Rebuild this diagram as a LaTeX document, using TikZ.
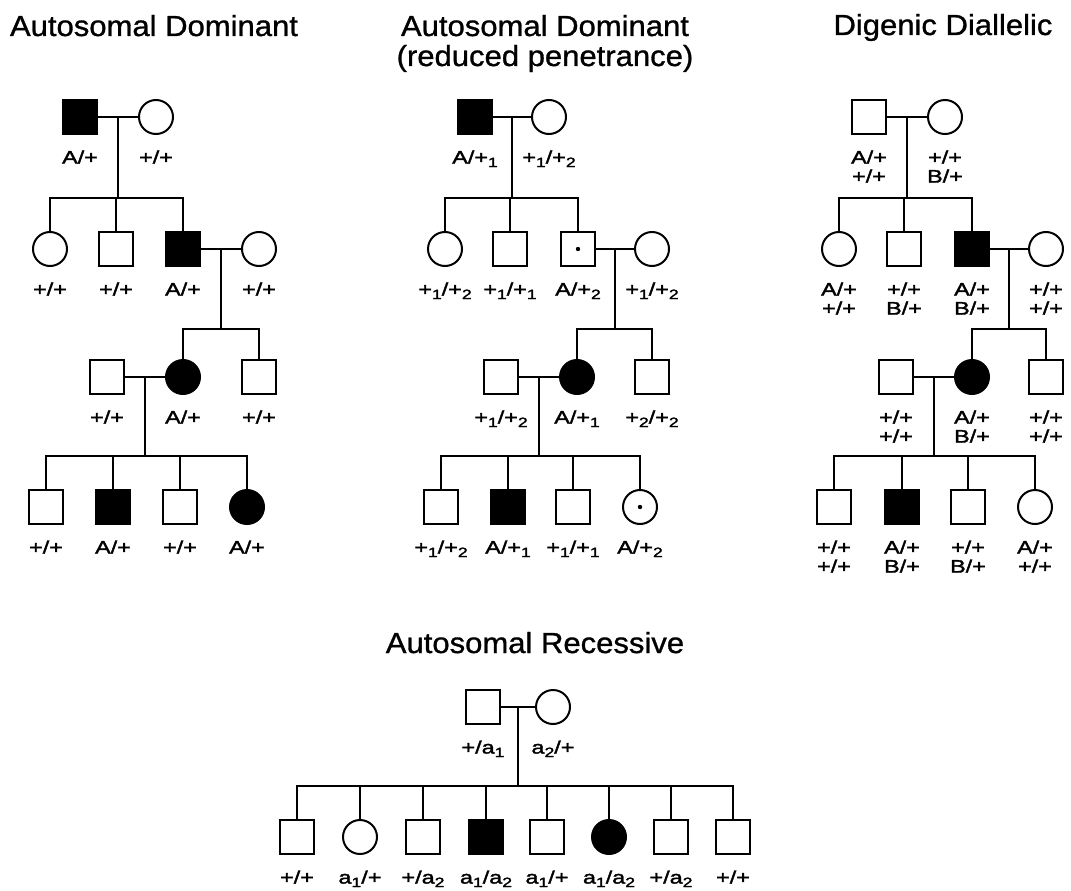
\documentclass[tikz,border=0pt]{standalone}
\usepackage{fontspec}
\setmainfont{Liberation Sans}
\newfontfamily\titlefont[FakeStretch=1.07, FakeBold=1]{Liberation Sans}
\newfontfamily\gtfont[FakeStretch=1.3, FakeBold=2]{Liberation Sans}
\usetikzlibrary{calc}
\newcommand{\sbs}[1]{\raisebox{-3.5pt}{\fontsize{13.5}{13.5}\selectfont #1}}
\tikzset{
  male/.style={draw, rectangle, minimum size=34pt, inner sep=0pt},
  female/.style={draw, circle, minimum size=34pt, inner sep=0pt},
  aff/.style={fill=black},
  carrier/.style={path picture={\fill (path picture bounding box.center) circle (2.2pt);}},
  title/.style={font=\titlefont\fontsize{29}{30}\selectfont, align=center},
  every label/.style={font=\gtfont\fontsize{18}{19}\selectfont, align=center, inner sep=0pt},
}
\begin{document}
\begin{tikzpicture}[x=1pt, y=-1pt, line width=2pt, label distance=14.5pt]
\useasboundingbox (0,0) rectangle (1071,891);
% titles
\node[title, anchor=base] (t1) at (154,36) {Autosomal Dominant};
\node[title] (t2) at (545,43.5) {Autosomal Dominant\\(reduced penetrance)};
\node[title, anchor=base] (t3) at (943,35) {Digenic Diallelic};
\node[title, anchor=base] (t4) at (535,653) {Autosomal Recessive};

% autosomal dominant
\node[male,aff,label=below:A/+] (a1f) at (80,117) {};
\node[female,label=below:+/+] (a1m) at (156,117) {};
\node[female,label=below:+/+] (a2a) at (50,249) {};
\node[male,label=below:+/+] (a2b) at (116,249) {};
\node[male,aff,label=below:A/+] (a2c) at (183,249) {};
\node[female,label=below:+/+] (a2s) at (259,249) {};
\node[male,label=below:+/+] (a3s) at (107,377) {};
\node[female,aff,label=below:A/+] (a3a) at (183,377) {};
\node[male,label=below:+/+] (a3b) at (259,377) {};
\node[male,label=below:+/+] (a4a) at (46,507) {};
\node[male,aff,label=below:A/+] (a4b) at (113,507) {};
\node[male,label=below:+/+] (a4c) at (180,507) {};
\node[female,aff,label=below:A/+] (a4d) at (247,507) {};
\draw (a1f) -- (a1m);
\coordinate (a1x) at ($(a1f)!.5!(a1m)$);
\coordinate (a2bar) at (a1x |- 0,198);
\draw (a1x) -- (a2bar);
\draw (a2a) |- (a2bar) -| (a2c);
\draw (a2b) -- (a2b |- a2bar);
\draw (a2c) -- (a2s);
\coordinate (a2x) at ($(a2c)!.5!(a2s)$);
\coordinate (a3bar) at (a2x |- 0,329);
\draw (a2x) -- (a3bar);
\draw (a3a) |- (a3bar) -| (a3b);
\draw (a3s) -- (a3a);
\coordinate (a3x) at ($(a3s)!.5!(a3a)$);
\coordinate (a4bar) at (a3x |- 0,456);
\draw (a3x) -- (a4bar);
\draw (a4a) |- (a4bar) -| (a4d);
\foreach \k in {a4b,a4c} \draw (\k) -- (\k |- a4bar);

% autosomal dominant, reduced penetrance
\node[male,aff,label=below:A/+\sbs1] (b1f) at (475,117) {};
\node[female,label=below:+\sbs1/+\sbs2] (b1m) at (549,117) {};
\node[female,label=below:+\sbs1/+\sbs2] (b2a) at (445,249) {};
\node[male,label=below:+\sbs1/+\sbs1] (b2b) at (510,249) {};
\node[male,carrier,label=below:A/+\sbs2] (b2c) at (578,249) {};
\node[female,label=below:+\sbs1/+\sbs2] (b2s) at (652,249) {};
\node[male,label=below:+\sbs1/+\sbs2] (b3s) at (501,377) {};
\node[female,aff,label=below:A/+\sbs1] (b3a) at (577,377) {};
\node[male,label=below:+\sbs2/+\sbs2] (b3b) at (652,377) {};
\node[male,label=below:+\sbs1/+\sbs2] (b4a) at (441,507) {};
\node[male,aff,label=below:A/+\sbs1] (b4b) at (508,507) {};
\node[male,label=below:+\sbs1/+\sbs1] (b4c) at (573,507) {};
\node[female,carrier,label=below:A/+\sbs2] (b4d) at (640,507) {};
\draw (b1f) -- (b1m);
\coordinate (b1x) at ($(b1f)!.5!(b1m)$);
\coordinate (b2bar) at (b1x |- 0,198);
\draw (b1x) -- (b2bar);
\draw (b2a) |- (b2bar) -| (b2c);
\draw (b2b) -- (b2b |- b2bar);
\draw (b2c) -- (b2s);
\coordinate (b2x) at ($(b2c)!.5!(b2s)$);
\coordinate (b3bar) at (b2x |- 0,329);
\draw (b2x) -- (b3bar);
\draw (b3a) |- (b3bar) -| (b3b);
\draw (b3s) -- (b3a);
\coordinate (b3x) at ($(b3s)!.5!(b3a)$);
\coordinate (b4bar) at (b3x |- 0,456);
\draw (b3x) -- (b4bar);
\draw (b4a) |- (b4bar) -| (b4d);
\foreach \k in {b4b,b4c} \draw (\k) -- (\k |- b4bar);

% digenic diallelic
\node[male,label=below:A/+\\+/+] (c1f) at (869,117) {};
\node[female,label=below:+/+\\B/+] (c1m) at (945,117) {};
\node[female,label=below:A/+\\+/+] (c2a) at (839,249) {};
\node[male,label=below:+/+\\B/+] (c2b) at (904,249) {};
\node[male,aff,label=below:A/+\\B/+] (c2c) at (972,249) {};
\node[female,label=below:+/+\\+/+] (c2s) at (1046,249) {};
\node[male,label=below:+/+\\+/+] (c3s) at (896,377) {};
\node[female,aff,label=below:A/+\\B/+] (c3a) at (972,377) {};
\node[male,label=below:+/+\\+/+] (c3b) at (1046,377) {};
\node[male,label=below:+/+\\+/+] (c4a) at (834,507) {};
\node[male,aff,label=below:A/+\\B/+] (c4b) at (902,507) {};
\node[male,label=below:+/+\\B/+] (c4c) at (968,507) {};
\node[female,label=below:A/+\\+/+] (c4d) at (1035,507) {};
\draw (c1f) -- (c1m);
\coordinate (c1x) at ($(c1f)!.5!(c1m)$);
\coordinate (c2bar) at (c1x |- 0,198);
\draw (c1x) -- (c2bar);
\draw (c2a) |- (c2bar) -| (c2c);
\draw (c2b) -- (c2b |- c2bar);
\draw (c2c) -- (c2s);
\coordinate (c2x) at ($(c2c)!.5!(c2s)$);
\coordinate (c3bar) at (c2x |- 0,329);
\draw (c2x) -- (c3bar);
\draw (c3a) |- (c3bar) -| (c3b);
\draw (c3s) -- (c3a);
\coordinate (c3x) at ($(c3s)!.5!(c3a)$);
\coordinate (c4bar) at (c3x |- 0,456);
\draw (c3x) -- (c4bar);
\draw (c4a) |- (c4bar) -| (c4d);
\foreach \k in {c4b,c4c} \draw (\k) -- (\k |- c4bar);

% autosomal recessive
\node[male,label=below:+/a\sbs1] (d1f) at (483,707) {};
\node[female,label=below:a\sbs2/+] (d1m) at (553,707) {};
\node[male,label=below:+/+] (d2a) at (297,837) {};
\node[female,label=below:a\sbs1/+] (d2b) at (360,837) {};
\node[male,label=below:+/a\sbs2] (d2c) at (423,837) {};
\node[male,aff,label=below:a\sbs1/a\sbs2] (d2d) at (486,837) {};
\node[male,label=below:a\sbs1/+] (d2e) at (547,837) {};
\node[female,aff,label=below:a\sbs1/a\sbs2] (d2f) at (609,837) {};
\node[male,label=below:+/a\sbs2] (d2g) at (671,837) {};
\node[male,label=below:+/+] (d2h) at (733,837) {};
\draw (d1f) -- (d1m);
\coordinate (d1x) at ($(d1f)!.5!(d1m)$);
\coordinate (d2bar) at (d1x |- 0,786);
\draw (d1x) -- (d2bar);
\draw (d2a) |- (d2bar) -| (d2h);
\foreach \k in {d2b,d2c,d2d,d2e,d2f,d2g} \draw (\k) -- (\k |- d2bar);
\end{tikzpicture}
\end{document}
